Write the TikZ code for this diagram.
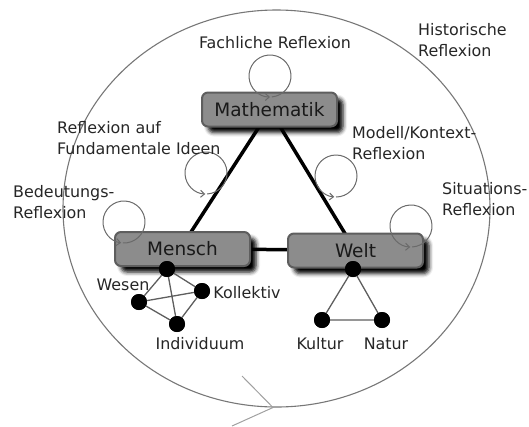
\documentclass[tikz,border=0pt]{standalone}
\usepackage{fontspec}
\setmainfont{DejaVu Sans}
\usetikzlibrary{arrows.meta,shadows.blur}
\definecolor{boxfill}{HTML}{8C8C8C}
\definecolor{boxline}{HTML}{5E5E5E}
\definecolor{loopgray}{HTML}{6A6A6A}
\definecolor{ringgray}{HTML}{777777}
\tikzset{
  box/.style={draw=boxline, line width=2pt, fill=boxfill, rounded corners=6pt,
    minimum width=135pt, minimum height=34pt, inner sep=0pt,
    font=\fontsize{18.5}{22}\selectfont, text=black!90,
    blur shadow={shadow xshift=6pt, shadow yshift=-6pt, shadow blur radius=4pt, shadow opacity=100}},
  link/.style={line width=3.5pt, black},
  dot/.style={circle, fill=black, minimum size=16pt, inner sep=0pt},
  thin/.style={draw=boxline, line width=1.3pt},
  lbl/.style={font=\fontsize{15.9}{21}\selectfont, inner sep=0pt, text=black!85},
  mlbl/.style={lbl, align=left, anchor=west},
  loopc/.style={draw=loopgray, line width=1pt, -{Straight Barb[length=4pt,width=7pt]}},
  ring/.style={draw=ringgray, line width=1.1pt}
}
\begin{document}
\begin{tikzpicture}[x=1pt,y=-1pt]
\useasboundingbox (0,0) rectangle (529,426);
% big ring
\coordinate (rc) at (276.5,208.5);
\draw[ring] (rc) ellipse [x radius=213.5pt, y radius=198.5pt];
\coordinate (rtip) at (273,407.5);
\coordinate (ra1) at (242,376);
\coordinate (ra2) at (232,426);
\draw[draw=ringgray!70, line width=1pt] (ra1) -- (rtip) -- (ra2);
% triangle links
\coordinate (cm) at (270,110);
\coordinate (cp) at (180,249);
\coordinate (cw) at (355,250);
\draw[link] (cm) -- (cp);
\draw[link] (cm) -- (cw);
\draw[link] (cp) -- (cw);
% boxes
\node[box] (math) at (269.5,109.5) {Mathematik};
\node[box] (mensch) at (182.5,249) {Mensch};
\node[box] (welt) at (355.5,250.5) {Welt};
% loops
\foreach \n/\x/\y/\e in {fa/270/76/270, fi/206/173/268, be/124/222/262, mk/336/176/265, si/411/226/268}{
  \coordinate (\n) at (\x,\y);
  \draw[loopc] ([shift={(\e+5-360:21pt)}]\n) arc[start angle=\e+5-360, end angle=\e, radius=21pt];
}
% Mensch graph
\node[dot] (d0) at (167,269) {};
\node[dot] (dw) at (139,302) {};
\node[dot] (dk) at (202,291) {};
\node[dot] (di) at (177,324) {};
\draw[thin] (d0) -- (dw) (d0) -- (dk) (d0) -- (di) (dw) -- (dk) (dw) -- (di) (dk) -- (di);
\node[dot] at (d0) {};
\node[dot] at (dw) {};
\node[dot] at (dk) {};
\node[dot] at (di) {};
% Welt graph
\node[dot] (e0) at (353,269) {};
\node[dot] (ek) at (322,320) {};
\node[dot] (en) at (382,320) {};
\draw[thin] (e0) -- (ek) -- (en) -- (e0);
\node[dot] at (e0) {};
\node[dot] at (ek) {};
\node[dot] at (en) {};
% labels
\node[lbl] (lfa) at (275,43) {Fachliche Reflexion};
\node[mlbl] (lhi) at (418,40) {Historische\\Reflexion};
\node[mlbl] (lfi) at (57,138) {Reflexion auf\\Fundamentale Ideen};
\node[mlbl] (lmk) at (352,143) {Modell/Kontext-\\Reflexion};
\node[mlbl] (lbe) at (13,202) {Bedeutungs-\\Reflexion};
\node[mlbl] (lsi) at (442,199) {Situations-\\Reflexion};
\node[lbl] (lw) at (123,285) {Wesen};
\node[lbl] (lk) at (247,293) {Kollektiv};
\node[lbl] (li) at (200,344) {Individuum};
\node[lbl] (lku) at (320,344) {Kultur};
\node[lbl] (lna) at (386,344) {Natur};
\end{tikzpicture}
\end{document}
